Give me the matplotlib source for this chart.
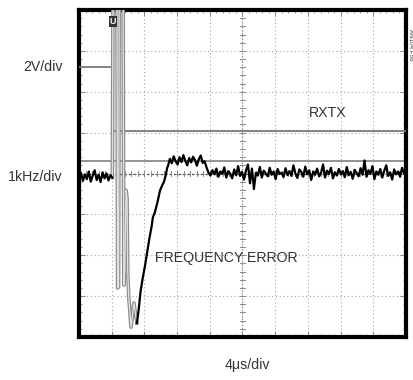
import numpy as np
import matplotlib

matplotlib.use("Agg")
import matplotlib.pyplot as plt

# screen units: 10 horizontal divisions (4us/div), 8 vertical divisions
N_XDIV = 10
N_YDIV = 8

# RXTX logic trace (2V/div): low before the switch, high after
rxtx_x = [0.0, 1.04, 1.04, 10.0]
rxtx_y = [6.60, 6.60, 5.04, 5.04]

# frequency reference marker level (1kHz/div)
freq_ref_level = 4.30

# frequency error trace, before the switch
pre_y = [3.90, 4.02, 3.82, 3.98, 3.86, 4.05, 3.80, 3.95, 4.08, 3.84,
         3.97, 3.79, 4.03, 3.88, 4.00, 3.83, 3.96, 3.90]
pre_x_end = 1.02

# glitch excursions during the switch (fast, faint on the scope);
# values above 8 div run off the top of the screen
glitch_x = [1.02, 1.04, 1.16, 1.18, 1.21, 1.23, 1.35, 1.37, 1.40, 1.44,
            1.47, 1.49, 1.52, 1.59, 1.68, 1.77]
glitch_y = [3.90, 8.40, 8.40, 1.20, 1.22, 8.40, 8.40, 1.27, 1.60, 3.59,
            3.40, 1.60, 1.00, 0.24, 0.83, 0.34]

# recovery ramp
ramp_x = [1.77, 1.83, 1.88, 1.95, 2.02, 2.08, 2.15, 2.22, 2.26, 2.32,
          2.40, 2.48, 2.55, 2.60, 2.65, 2.70]
ramp_y = [0.34, 0.70, 1.10, 1.45, 1.75, 2.05, 2.40, 2.70, 2.93, 3.05,
          3.30, 3.59, 3.72, 3.80, 3.95, 4.15]

# overshoot just after the ramp
over_y = [4.18, 4.36, 4.25, 4.42, 4.30, 4.22, 4.40, 4.28, 4.45, 4.31,
          4.20, 4.38, 4.27, 4.41, 4.33, 4.19, 4.35, 4.44, 4.26, 4.30, 4.15]
over_x0, over_x1 = 2.72, 3.90

# settled noise
settle_y = [4.02, 3.95, 4.08, 3.98, 4.12, 3.92, 4.05, 3.99, 4.15, 3.90,
            4.06, 4.00, 3.88, 4.10, 3.96, 4.18, 3.94, 4.04, 3.85, 4.08,
            4.22, 3.76, 4.12, 3.62, 4.02, 3.95, 4.16, 3.90, 4.07, 4.00,
            3.93, 4.14, 3.97, 4.05, 3.86, 4.11, 3.99, 4.02, 3.91, 4.13,
            3.96, 4.06, 3.94, 4.20, 4.00, 3.89, 4.10, 4.04, 3.92, 4.17,
            3.98, 4.08, 3.84, 4.05, 3.97, 4.12, 3.93, 4.02, 4.22, 3.90,
            4.07, 3.99, 4.14, 3.88, 4.03, 3.95, 4.11, 3.98, 4.06, 3.91,
            4.16, 3.96, 4.04, 3.87, 4.09, 4.01, 3.93, 4.13, 3.97, 4.32,
            3.92, 4.08, 3.99, 4.18, 3.86, 4.05, 3.97, 4.11, 3.90, 4.07,
            4.20, 3.94, 4.03, 3.85, 4.10, 3.98, 4.05, 3.92, 4.14, 4.00, 4.06]
settle_x0, settle_x1 = 3.96, 10.0

FONT = ["Liberation Sans Narrow", "Liberation Sans", "DejaVu Sans"]
FS = 10.2

fig = plt.figure(figsize=(4.14, 3.80), dpi=100)
ax = fig.add_axes([79 / 414, 43 / 380, 327 / 414, 327 / 380])
ax.set_xlim(0, N_XDIV)
ax.set_ylim(0, N_YDIV)

# graticule
grid_kw = dict(color="#a5a5a5", lw=0.8, ls=(0, (1, 2.4)), zorder=1)
for gx in range(1, N_XDIV):
    ax.axvline(gx, **grid_kw)
for gy in range(1, N_YDIV):
    ax.axhline(gy, **grid_kw)
cx, cy = N_XDIV / 2, N_YDIV / 2
ax.axvline(cx, color="#888888", lw=0.8, ls=(0, (1, 1.6)), zorder=1)
ax.axhline(cy, color="#555555", lw=0.9, ls=(0, (2, 1.6)), zorder=1)
for t in np.arange(0.2, N_YDIV, 0.2):
    ax.plot([cx - 0.07, cx + 0.07], [t, t], color="#888888", lw=0.7, zorder=1)
for t in np.arange(0.2, N_XDIV, 0.2):
    ax.plot([t, t], [cy - 0.06, cy + 0.06], color="#888888", lw=0.7, zorder=1)

ax.set_xticks(range(N_XDIV + 1))
ax.set_yticks(range(N_YDIV + 1))
ax.set_xticks(np.arange(0, N_XDIV, 0.2), minor=True)
ax.set_yticks(np.arange(0, N_YDIV, 0.2), minor=True)
ax.tick_params(which="both", direction="in", top=True, right=True,
               labelbottom=False, labelleft=False, color="#888888")
ax.tick_params(which="major", length=4, width=0.7)
ax.tick_params(which="minor", length=2.5, width=0.6)
for s in ax.spines.values():
    s.set_linewidth(3)
    s.set_color("black")

# reference marker and RXTX trace
ax.axhline(freq_ref_level, color="#8a8a8a", lw=1.3, zorder=2)
ax.plot(rxtx_x, rxtx_y, color="#7a7a7a", lw=1.3, zorder=3)

# glitches, drawn as faint hollow strokes
ax.plot(glitch_x, glitch_y, color="#8c8c8c", lw=2.6, zorder=3)
ax.plot(glitch_x, glitch_y, color="#e2e2e2", lw=0.9, zorder=3)

# frequency error trace
pre_x = np.linspace(0, pre_x_end, len(pre_y))
over_x = np.linspace(over_x0, over_x1, len(over_y))
settle_x = np.linspace(settle_x0, settle_x1, len(settle_y))
ax.plot(pre_x, pre_y, color="black", lw=1.6, zorder=4)
ax.plot(np.concatenate([ramp_x, over_x, settle_x]),
        np.concatenate([ramp_y, over_y, settle_y]),
        color="black", lw=1.6, zorder=4)

# trigger marker at the top
ax.text(1.04, 7.72, "U", fontsize=6.5, fontweight="bold", color="white",
        ha="center", va="center", family=FONT, zorder=6,
        bbox=dict(boxstyle="square,pad=0.12", fc="#333333", ec="none"))

# labels
ax.text(7.6, 5.48, "RXTX", fontsize=FS, family=FONT, color="#333333",
        ha="center", va="center")
ax.text(4.5, 1.93, "FREQUENCY ERROR", fontsize=FS, family=FONT,
        color="#333333", ha="center", va="center")
fig.text(63 / 414, 1 - 67 / 380, "2V/div", fontsize=FS, family=FONT,
         color="#333333", ha="right", va="center")
fig.text(63 / 414, 1 - 177 / 380, "1kHz/div", fontsize=FS, family=FONT,
         color="#333333", ha="right", va="center")
fig.text(247 / 414, 1 - 365 / 380, "4\u03bcs/div", fontsize=FS, family=FONT,
         color="#333333", ha="center", va="center")
fig.text(411 / 414, 1 - 45 / 380, "AN104 F56", fontsize=4.5, family=FONT,
         color="#333333", ha="center", va="center", rotation=270)

fig.savefig("out.png", dpi=100)
